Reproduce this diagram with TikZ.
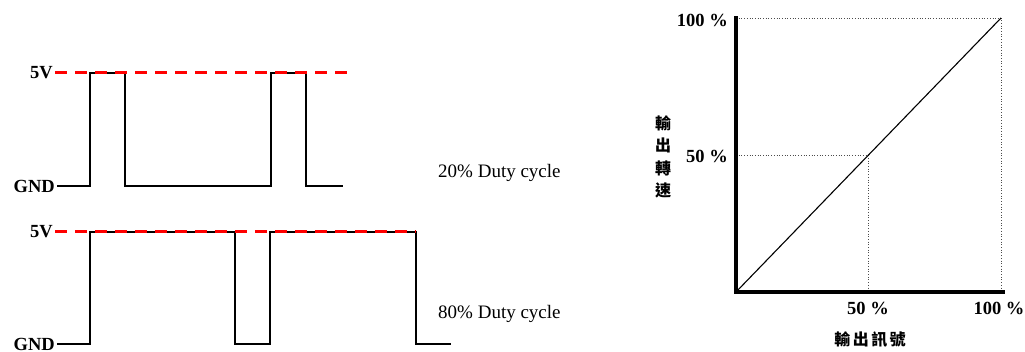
\documentclass[tikz,border=0pt]{standalone}
\usepackage{fontspec}
\setmainfont{Liberation Serif}
\newfontfamily\cjk{Noto Sans CJK TC}
\begin{document}
\begin{tikzpicture}[x=1pt,y=-1pt,
  lbl/.style={font=\fontsize{18.5}{20}\selectfont\bfseries, inner sep=0pt},
  txt/.style={font=\fontsize{19}{20}\selectfont, inner sep=0pt},
  cjklbl/.style={font=\fontsize{16}{22.5}\selectfont\cjk\bfseries, inner sep=0pt, align=center},
  wave/.style={black, line width=2.7pt},
  level/.style={red, line width=3pt, dash pattern=on 12pt off 8pt},
  axis/.style={black, line width=4.3pt},
  guide/.style={black!70, line width=0.7pt, dotted}]
\useasboundingbox (0,0) rectangle (1025,352);
% top waveform (20%)
\draw[wave] (57,186) -- (90,186) -- (90,73) -- (125,73) -- (125,186) -- (271,186) -- (271,73) -- (306,73) -- (306,186) -- (343,186);
\draw[level] (55,73) -- (347,73);
\node[lbl, anchor=east] (v5a) at (53,73) {5V};
\node[lbl, anchor=east] (gnda) at (55,186) {GND};
\node[txt, anchor=west] (d20) at (438,173) {20\% Duty cycle};
% bottom waveform (80%)
\draw[wave] (57,344) -- (90,344) -- (90,232) -- (235,232) -- (235,344) -- (270,344) -- (270,232) -- (416,232) -- (416,344) -- (451,344);
\draw[level] (55,232) -- (416,232);
\node[lbl, anchor=east] (v5b) at (53,232) {5V};
\node[lbl, anchor=east] (gndb) at (55,344) {GND};
\node[txt, anchor=west] (d80) at (438,314) {80\% Duty cycle};
% graph
\coordinate (o) at (736,292);
\coordinate (yt) at (736,18);
\coordinate (xr) at (1003,292);
\coordinate (tr) at (1001,18);
\coordinate (br) at (1001,292);
\coordinate (mid) at (868,155);
\coordinate (ym) at (736,155);
\coordinate (xm) at (868,292);
\draw[guide] (yt) -- (tr) -- (br);
\draw[guide] (ym) -- (mid) -- (xm);
\draw[black, line width=1.1pt] (o) -- (tr);
\draw[axis, line cap=rect] (yt) -- (o) -- (xr);
\node[lbl, anchor=east] (y100) at (728,20) {100 \%};
\node[lbl, anchor=east] (y50) at (728,156) {50 \%};
\node[lbl] (x50) at (868,308) {50 \%};
\node[lbl] (x100) at (999,308) {100 \%};
\node[cjklbl] (xl) at (870,340) {輸\kern2.5pt 出\kern2.5pt 訊\kern2.5pt 號};
\node[cjklbl] (yl) at (663,157) {輸\\出\\轉\\速};
\end{tikzpicture}
\end{document}
